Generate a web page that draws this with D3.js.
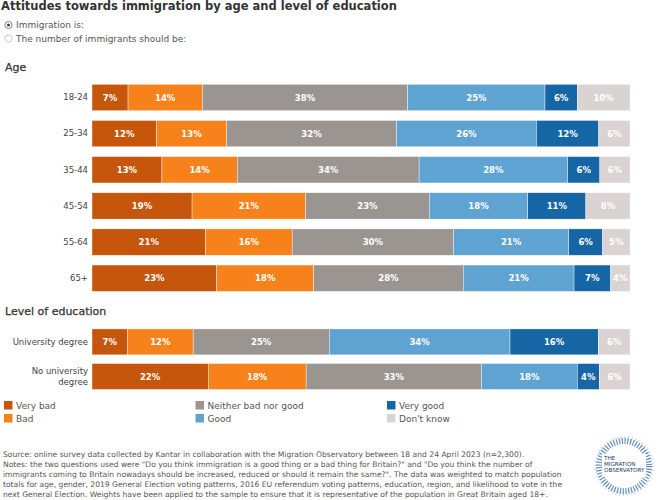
<!DOCTYPE html>
<html>
<head>
<meta charset="utf-8">
<script src="https://cdn.jsdelivr.net/npm/d3@7"></script>
<style>
  body { margin: 0; background: #fff; }
  svg { display: block; font-family: "DejaVu Sans", Verdana, sans-serif; }
</style>
</head>
<body>
<div id="chart"></div>
<script>
// chart size
var svgWidth = 667;
var svgHeight = 500;

// categories
var responses = ["Very bad", "Bad", "Neither bad nor good", "Good", "Very good", "Don't know"];
var colors = ["#c5560c", "#f7821c", "#9b9592", "#5ea3d1", "#1666a5", "#d9d3d1"];

var ageGroups = ["18-24", "25-34", "35-44", "45-54", "55-64", "65+"];
var eduGroups = ["University degree", "No university degree"];

// shares (%) per row, in the order of responses
var age1824 = [6.7, 13.8, 38.2, 25.5, 6.0, 9.8];
var age2534 = [12.0, 13.0, 31.6, 26.0, 11.6, 5.8];
var age3544 = [13.0, 14.0, 33.8, 27.6, 6.0, 5.6];
var age4554 = [18.6, 21.1, 23.0, 18.3, 10.8, 8.2];
var age5564 = [21.1, 16.1, 30.0, 21.4, 6.3, 5.1];
var age65 = [23.2, 18.0, 27.8, 20.6, 6.8, 3.6];
var eduUni = [6.6, 12.2, 25.3, 33.6, 16.4, 5.9];
var eduNoUni = [21.6, 18.2, 32.6, 17.8, 4.1, 5.7];

// labels printed on the bars
var age1824Labels = ["7%", "14%", "38%", "25%", "6%", "10%"];
var age2534Labels = ["12%", "13%", "32%", "26%", "12%", "6%"];
var age3544Labels = ["13%", "14%", "34%", "28%", "6%", "6%"];
var age4554Labels = ["19%", "21%", "23%", "18%", "11%", "8%"];
var age5564Labels = ["21%", "16%", "30%", "21%", "6%", "5%"];
var age65Labels = ["23%", "18%", "28%", "21%", "7%", "4%"];
var eduUniLabels = ["7%", "12%", "25%", "34%", "16%", "6%"];
var eduNoUniLabels = ["22%", "18%", "33%", "18%", "4%", "6%"];

var footnotes = [
    "Source: online survey data collected by Kantar in collaboration with the Migration Observatory between 18 and 24 April 2023 (n=2,300).",
    "Notes: the two questions used were \"Do you think immigration is a good thing or a bad thing for Britain?\" and \"Do you think the number of",
    "immigrants coming to Britain nowadays should be increased, reduced or should it remain the same?\". The data was weighted to match population",
    "totals for age, gender, 2019 General Election voting patterns, 2016 EU referendum voting patterns, education, region, and likelihood to vote in the",
    "next General Election. Weights have been applied to the sample to ensure that it is representative of the population in Great Britain aged 18+."
];

var ageRows = [age1824, age2534, age3544, age4554, age5564, age65];
var ageLabels = [age1824Labels, age2534Labels, age3544Labels, age4554Labels, age5564Labels, age65Labels];
var eduRows = [eduUni, eduNoUni];
var eduLabels = [eduUniLabels, eduNoUniLabels];

var svg = d3.select("#chart")
    .append("svg")
    .attr("width", svgWidth)
    .attr("height", svgHeight);

// title
svg.append("text")
    .attr("x", 1)
    .attr("y", 10)
    .attr("font-size", "11.5px")
    .attr("font-weight", "bold")
    .attr("fill", "#333")
    .text("Attitudes towards immigration by age and level of education");

// radio buttons
var radios = [{label: "Immigration is:", on: true}, {label: "The number of immigrants should be:", on: false}];
var radioGroup = svg.append("g");
radioGroup.selectAll("circle.outer")
    .data(radios)
    .enter()
    .append("circle")
    .attr("class", "outer")
    .attr("cx", 8.5)
    .attr("cy", (d, i) => 25 + i * 13.5)
    .attr("r", 3.6)
    .attr("fill", "#fff")
    .attr("stroke", (d) => d.on ? "#666" : "#bbb")
    .attr("stroke-width", 0.8);
radioGroup.selectAll("circle.dot")
    .data(radios.filter(d => d.on))
    .enter()
    .append("circle")
    .attr("cx", 8.5)
    .attr("cy", 25)
    .attr("r", 1.6)
    .attr("fill", "#444");
radioGroup.selectAll("text")
    .data(radios)
    .enter()
    .append("text")
    .attr("x", 16)
    .attr("y", (d, i) => 28.3 + i * 13.5)
    .attr("font-size", "9px")
    .attr("fill", "#555")
    .text(d => d.label);

// section headings
svg.append("text")
    .attr("x", 5)
    .attr("y", 71)
    .attr("font-size", "11px")
    .attr("fill", "#333")
    .attr("stroke", "#333")
    .attr("stroke-width", 0.25)
    .text("Age");

svg.append("text")
    .attr("x", 5)
    .attr("y", 315)
    .attr("font-size", "11px")
    .attr("fill", "#333")
    .attr("stroke", "#333")
    .attr("stroke-width", 0.25)
    .text("Level of education");

// scales
var xScale = d3.scaleLinear()
    .domain([0, 100])
    .range([92, 630]);

var yAge = d3.scaleBand()
    .domain(ageGroups)
    .range([79.4, 79.4 + 6 * 36.15])
    .paddingInner(0.27)
    .paddingOuter(0.135);

var yEdu = d3.scaleBand()
    .domain(eduGroups)
    .range([324.6, 324.6 + 2 * 34.6])
    .paddingInner(0.25)
    .paddingOuter(0.125);

// turn a row of shares into stacked segments
function stackRow(values, labels, group) {
    var start = 0;
    return values.map(function(v, i) {
        var seg = {group: group, x0: start, x1: start + v, label: labels[i], color: colors[i]};
        start += v;
        return seg;
    });
}

function drawBars(groups, rows, labels, yScale) {
    var g = svg.append("g");
    var segs = [];
    groups.forEach(function(name, i) {
        segs = segs.concat(stackRow(rows[i], labels[i], name));
    });

    g.selectAll("rect")
        .data(segs)
        .enter()
        .append("rect")
        .attr("x", d => xScale(d.x0))
        .attr("width", d => xScale(d.x1) - xScale(d.x0))
        .attr("y", d => yScale(d.group))
        .attr("height", yScale.bandwidth())
        .attr("fill", d => d.color)
        .attr("stroke", "#fff")
        .attr("stroke-width", 0.4);

    g.selectAll("text")
        .data(segs)
        .enter()
        .append("text")
        .attr("x", d => (xScale(d.x0) + xScale(d.x1)) / 2)
        .attr("y", d => yScale(d.group) + yScale.bandwidth() / 2 + 3.2)
        .attr("text-anchor", "middle")
        .attr("font-size", "8.5px")
        .attr("font-weight", "bold")
        .attr("fill", "#fff")
        .text(d => d.label);

    // row labels on the left
    var yAxis = d3.axisLeft(yScale).tickSize(0).tickPadding(4);
    var axisG = g.append("g")
        .attr("transform", `translate(${xScale(0)},0)`)
        .call(yAxis);
    axisG.select(".domain").remove();
    axisG.selectAll("text")
        .attr("font-size", "8.5px")
        .attr("font-family", "DejaVu Sans, Verdana, sans-serif")
        .attr("fill", "#444");
    return axisG;
}

drawBars(ageGroups, ageRows, ageLabels, yAge);
var eduAxis = drawBars(eduGroups, eduRows, eduLabels, yEdu);

// split the long education label over two lines
eduAxis.selectAll(".tick text")
    .filter(d => d === "No university degree")
    .text(null)
    .each(function() {
        var t = d3.select(this);
        t.append("tspan").attr("x", -4).attr("dy", "-0.25em").text("No university");
        t.append("tspan").attr("x", -4).attr("dy", "1.2em").text("degree");
    });

// legend
var legend = svg.append("g").attr("transform", "translate(4,401)");
var legendItems = legend.selectAll("g")
    .data(responses)
    .enter()
    .append("g")
    .attr("transform", (d, i) => `translate(${Math.floor(i / 2) * 191.5},${(i % 2) * 13})`);
legendItems.append("rect")
    .attr("width", 8.5)
    .attr("height", 8.5)
    .attr("fill", (d, i) => colors[i]);
legendItems.append("text")
    .attr("x", 12)
    .attr("y", 8)
    .attr("font-size", "9px")
    .attr("fill", "#555")
    .text(d => d);

// footnotes
svg.append("g").selectAll("text")
    .data(footnotes)
    .enter()
    .append("text")
    .attr("x", 3)
    .attr("y", (d, i) => 456.6 + i * 10.2)
    .attr("font-size", "7.6px")
    .attr("fill", "#555")
    .text(d => d);

// logo
var logo = svg.append("g").attr("transform", "translate(624,466)");
logo.append("circle")
    .attr("r", 25)
    .attr("fill", "none")
    .attr("stroke", "#3f6f9e")
    .attr("stroke-width", 6)
    .attr("stroke-dasharray", "1.2 1.6")
    .attr("opacity", 0.8);
logo.append("circle")
    .attr("r", 29)
    .attr("fill", "none")
    .attr("stroke", "#8fb0cf")
    .attr("stroke-width", 2)
    .attr("stroke-dasharray", "0.8 3")
    .attr("opacity", 0.7);
logo.append("rect")
    .attr("x", -22)
    .attr("y", -12)
    .attr("width", 44)
    .attr("height", 23)
    .attr("fill", "#fff");
logo.selectAll("text")
    .data(["THE", "MIGRATION", "OBSERVATORY"])
    .enter()
    .append("text")
    .attr("x", -20)
    .attr("y", (d, i) => -6 + i * 6.2)
    .attr("font-size", "5.6px")
    .attr("fill", "#1d3b5e")
    .text(d => d);
</script>
</body>
</html>
